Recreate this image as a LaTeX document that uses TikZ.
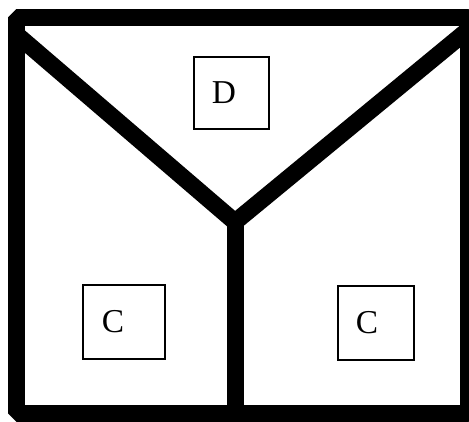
\documentclass[tikz,border=0pt]{standalone}
\usepackage{fontspec}
\setmainfont{Liberation Serif}
\begin{document}
\begin{tikzpicture}[font=\fontsize{19}{22}\selectfont,
  wall/.style={line width=0.34cm},
  room/.style={draw,line width=0.045cm,inner sep=0pt}]
  \useasboundingbox (0,0) rectangle (9.38,8.44);

  \coordinate (L) at (0.32,7.76);
  \coordinate (J) at (4.70,4.00);
  \coordinate (R) at (9.36,7.84);
  \coordinate (S) at (4.70,0.16);

  % outer wall
  \draw[wall,line join=bevel] (0.32,0.16) rectangle (9.36,8.08);

  % Y-shaped walls
  \draw[wall,line join=miter] (L) -- (J) -- (R);
  \draw[wall] (J) -- (S);

  % boxes
  \node[room,minimum width=1.50cm,minimum height=1.44cm,
        label={[xshift=-0.15cm]center:D}] (boxD) at (4.63,6.58) {};
  \node[room,minimum width=1.64cm,minimum height=1.48cm,
        label={[xshift=-0.22cm]center:C}] (boxCl) at (2.48,2.00) {};
  \node[room,minimum width=1.52cm,minimum height=1.48cm,
        label={[xshift=-0.18cm]center:C}] (boxCr) at (7.52,1.98) {};
\end{tikzpicture}
\end{document}
